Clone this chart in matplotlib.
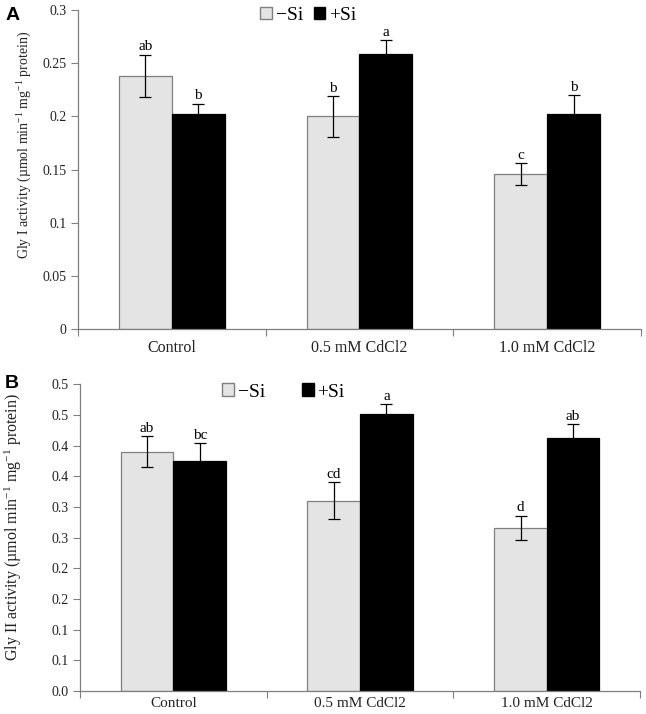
import numpy as np
import matplotlib
matplotlib.use('Agg')
import matplotlib.pyplot as plt
from matplotlib.patches import Patch

# Data
categories = ['Control', '0.5 mM CdCl2', '1.0 mM CdCl2']

gly1_minus = [0.238, 0.200, 0.146]
gly1_minus_err = [0.020, 0.019, 0.010]
gly1_plus = [0.202, 0.259, 0.202]
gly1_plus_err = [0.010, 0.013, 0.018]
gly1_letters_minus = ['ab', 'b', 'c']
gly1_letters_plus = ['b', 'a', 'b']
gly1_ticks = [0, 0.05, 0.1, 0.15, 0.2, 0.25, 0.3]
gly1_ticklabels = ['0', '0.05', '0.1', '0.15', '0.2', '0.25', '0.3']

gly2_minus = [0.390, 0.310, 0.266]
gly2_minus_err = [0.025, 0.030, 0.020]
gly2_plus = [0.375, 0.452, 0.412]
gly2_plus_err = [0.029, 0.016, 0.023]
gly2_letters_minus = ['ab', 'cd', 'd']
gly2_letters_plus = ['bc', 'a', 'ab']
gly2_ticks = [0, 0.05, 0.1, 0.15, 0.2, 0.25, 0.3, 0.35, 0.4, 0.45, 0.5]
gly2_ticklabels = ['0.0', '0.1', '0.1', '0.2', '0.2', '0.3', '0.3', '0.4', '0.4', '0.5', '0.5']

SERIF = 'Liberation Serif'
LIGHT = '#e4e4e4'
EDGE = '#7f7f7f'
plt.rcParams['font.family'] = SERIF
plt.rcParams['mathtext.fontset'] = 'custom'
plt.rcParams['mathtext.rm'] = SERIF
plt.rcParams['mathtext.it'] = SERIF + ':italic'
plt.rcParams['mathtext.default'] = 'regular'

fig = plt.figure(figsize=(6.46, 7.14), dpi=100)


def draw_panel(ax, minus, minus_err, plus, plus_err, let_m, let_p,
               ticks, ticklabels, ylabel, ylab_size, ylab_xy, legend_xy, colspace,
               xpad, xsize):
    x = np.arange(len(categories))
    w = 0.282
    ekw = dict(ecolor='black', elinewidth=0.9, capsize=4, capthick=0.9)
    ax.bar(x - w / 2, minus, w, color=LIGHT, edgecolor=EDGE, linewidth=0.9,
           yerr=minus_err, error_kw=ekw, zorder=2)
    ax.bar(x + w / 2, plus, w, color='black', edgecolor='black', linewidth=0.9,
           yerr=plus_err, error_kw=ekw, zorder=2)
    for xi, v, e, t in zip(x - w / 2, minus, minus_err, let_m):
        ax.annotate(t, (xi, v + e), xytext=(0, 1), textcoords='offset points',
                    ha='center', va='bottom', fontsize=11)
    for xi, v, e, t in zip(x + w / 2, plus, plus_err, let_p):
        ax.annotate(t, (xi, v + e), xytext=(0, 1), textcoords='offset points',
                    ha='center', va='bottom', fontsize=11)

    ax.set_xlim(-0.5, len(categories) - 0.5)
    ax.set_ylim(0, ticks[-1])
    ax.set_yticks(ticks)
    ax.set_yticklabels(ticklabels, fontsize=10, color='#222222')
    ax.set_xticks(np.arange(-0.5, len(categories)))
    ax.set_xticklabels([])
    ax.set_xticks(x, minor=True)
    ax.set_xticklabels(categories, minor=True, fontsize=xsize, color='#222222')
    ax.tick_params(axis='x', which='minor', length=0, pad=xpad)
    ax.tick_params(axis='x', which='major', length=5, direction='out', color=EDGE)
    ax.tick_params(axis='y', length=5, direction='out', color=EDGE, pad=3)
    for s in ['top', 'right']:
        ax.spines[s].set_visible(False)
    for s in ['left', 'bottom']:
        ax.spines[s].set_color(EDGE)
        ax.spines[s].set_linewidth(0.9)
    ax.set_ylabel(ylabel, fontsize=ylab_size, color='#222222')
    ax.yaxis.set_label_coords(*ylab_xy)

    handles = [Patch(facecolor=LIGHT, edgecolor=EDGE, label='\u2212Si'),
               Patch(facecolor='black', edgecolor='black', label='+Si')]
    ax.legend(handles=handles, ncol=2, frameon=False, loc='center',
              bbox_to_anchor=legend_xy, fontsize=14, borderpad=0,
              handlelength=0.6, handleheight=0.6, handletextpad=0.2,
              columnspacing=colspace)


ax1 = fig.add_axes([0.1207, 0.539, 0.8715, 0.4468])
draw_panel(ax1, gly1_minus, gly1_minus_err, gly1_plus, gly1_plus_err,
           gly1_letters_minus, gly1_letters_plus, gly1_ticks, gly1_ticklabels,
           'Gly I activity (\u00b5mol min$^{-1}$ mg$^{-1}$ protein)', 10,
           (-0.078, 0.577), (0.409, 0.984), 0.55, 8, 11.5)

ax2 = fig.add_axes([0.124, 0.0322, 0.867, 0.4295])
draw_panel(ax2, gly2_minus, gly2_minus_err, gly2_plus, gly2_plus_err,
           gly2_letters_minus, gly2_letters_plus, gly2_ticks, gly2_ticklabels,
           'Gly II activity (\u00b5mol min$^{-1}$ mg$^{-1}$ protein)', 11.5,
           (-0.1, 0.535), (0.363, 0.975), 1.9, 4.5, 11)

fig.text(0.008, 0.99, 'A', fontsize=14, fontweight='bold',
         family='Liberation Sans', va='top', ha='left')
fig.text(0.008, 0.475, 'B', fontsize=14, fontweight='bold',
         family='Liberation Sans', va='top', ha='left')

fig.savefig('out.png', dpi=100)
